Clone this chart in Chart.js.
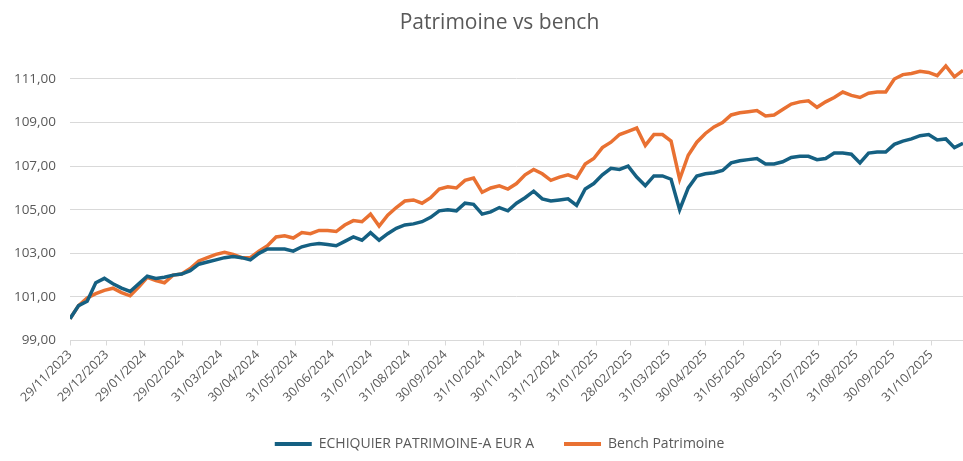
<!DOCTYPE html>
<html>
<head>
<meta charset="utf-8">
<script src="https://cdn.jsdelivr.net/npm/chart.js@4.4.1/dist/chart.umd.min.js"></script>
<style>
  html, body { margin: 0; padding: 0; background: #fff; }
  #wrap { width: 963px; height: 461px; }
</style>
</head>
<body>
<div id="wrap"><canvas id="chart-patrimoine"></canvas></div>
<script>
'use strict';

// Data (weekly readings)

var dates = [
	'2023-11-29','2023-12-06','2023-12-13','2023-12-20','2023-12-27',
	'2024-01-03','2024-01-10','2024-01-17','2024-01-24','2024-01-31',
	'2024-02-07','2024-02-14','2024-02-21','2024-02-28','2024-03-06',
	'2024-03-13','2024-03-20','2024-03-27','2024-04-03','2024-04-10',
	'2024-04-17','2024-04-24','2024-05-01','2024-05-08','2024-05-15',
	'2024-05-22','2024-05-29','2024-06-05','2024-06-12','2024-06-19',
	'2024-06-26','2024-07-03','2024-07-10','2024-07-17','2024-07-24',
	'2024-07-31','2024-08-07','2024-08-14','2024-08-21','2024-08-28',
	'2024-09-04','2024-09-11','2024-09-18','2024-09-25','2024-10-02',
	'2024-10-09','2024-10-16','2024-10-23','2024-10-30','2024-11-06',
	'2024-11-13','2024-11-20','2024-11-27','2024-12-04','2024-12-11',
	'2024-12-18','2024-12-25','2025-01-01','2025-01-08','2025-01-15',
	'2025-01-22','2025-01-29','2025-02-05','2025-02-12','2025-02-19',
	'2025-02-26','2025-03-05','2025-03-12','2025-03-19','2025-03-26',
	'2025-04-02','2025-04-09','2025-04-16','2025-04-23','2025-04-30',
	'2025-05-07','2025-05-14','2025-05-21','2025-05-28','2025-06-04',
	'2025-06-11','2025-06-18','2025-06-25','2025-07-02','2025-07-09',
	'2025-07-16','2025-07-23','2025-07-30','2025-08-06','2025-08-13',
	'2025-08-20','2025-08-27','2025-09-03','2025-09-10','2025-09-17',
	'2025-09-24','2025-10-01','2025-10-08','2025-10-15','2025-10-22',
	'2025-10-29','2025-11-05','2025-11-12','2025-11-19','2025-11-26'
];

var fund = [
	100.00,100.60,100.80,101.65,101.85,101.60,101.40,101.25,101.60,101.95,
	101.85,101.90,102.00,102.05,102.20,102.50,102.60,102.70,102.80,102.85,
	102.80,102.70,103.00,103.20,103.20,103.20,103.10,103.30,103.40,103.45,
	103.40,103.35,103.55,103.75,103.60,103.95,103.60,103.90,104.15,104.30,
	104.35,104.45,104.65,104.95,105.00,104.95,105.30,105.25,104.80,104.90,
	105.10,104.95,105.30,105.55,105.85,105.50,105.40,105.45,105.50,105.20,
	105.95,106.20,106.60,106.90,106.85,107.00,106.50,106.10,106.55,106.55,
	106.40,105.00,106.00,106.55,106.65,106.70,106.80,107.15,107.25,107.30,
	107.35,107.10,107.10,107.20,107.40,107.45,107.45,107.30,107.35,107.60,
	107.60,107.55,107.15,107.60,107.65,107.65,108.00,108.15,108.25,108.40,
	108.45,108.20,108.25,107.85,108.05
];

var bench = [
	100.00,100.60,100.95,101.15,101.30,101.40,101.20,101.05,101.45,101.90,
	101.75,101.65,102.00,102.05,102.30,102.65,102.80,102.95,103.05,102.95,
	102.80,102.80,103.10,103.35,103.75,103.80,103.70,103.95,103.90,104.05,
	104.05,104.00,104.30,104.50,104.45,104.80,104.25,104.75,105.10,105.40,
	105.45,105.30,105.55,105.95,106.05,106.00,106.35,106.45,105.80,106.00,
	106.10,105.95,106.20,106.60,106.85,106.65,106.35,106.50,106.60,106.45,
	107.10,107.35,107.85,108.10,108.45,108.60,108.75,107.95,108.45,108.45,
	108.15,106.40,107.50,108.10,108.50,108.80,109.00,109.35,109.45,109.50,
	109.55,109.30,109.35,109.60,109.85,109.95,110.00,109.70,109.95,110.15,
	110.40,110.25,110.15,110.35,110.40,110.40,111.00,111.20,111.25,111.35,
	111.30,111.15,111.60,111.10,111.40
];

var tickLabels = [
	'29/11/2023','29/12/2023','29/01/2024','29/02/2024','31/03/2024','30/04/2024',
	'31/05/2024','30/06/2024','31/07/2024','31/08/2024','30/09/2024','31/10/2024',
	'30/11/2024','31/12/2024','31/01/2025','28/02/2025','31/03/2025','30/04/2025',
	'31/05/2025','30/06/2025','31/07/2025','31/08/2025','30/09/2025','31/10/2025'
];

var yTicks = [99, 101, 103, 105, 107, 109, 111];

var seriesNames = ['ECHIQUIER PATRIMOINE-A EUR A', 'Bench Patrimoine'];
var seriesColors = ['#156082', '#E97132'];


// Helpers

var DAY = 86400000;
var origin = Date.UTC(2023, 10, 29);

function isoToDay(s) {
	var p = s.split('-');
	return Math.round((Date.UTC(+p[0], +p[1] - 1, +p[2]) - origin) / DAY);
}

function frToDay(s) {
	var p = s.split('/');
	return Math.round((Date.UTC(+p[2], +p[1] - 1, +p[0]) - origin) / DAY);
}

function toPoints(values) {
	return values.map(function(v, i) {
		return { x: isoToDay(dates[i]), y: v };
	});
}

var tickDays = tickLabels.map(frToDay);
var lastDay = isoToDay(dates[dates.length - 1]);

// title and legend sit a bit right of the canvas centre in the original
var centreShift = {
	id: 'centreShift',
	afterLayout: function(c) {
		[c.titleBlock, c.legend].forEach(function(box) {
			if (box) {
				box.left += 18;
				box.right += 18;
			}
		});
	}
};


// Chart

var textColor = '#595959';
var gridColor = '#d9d9d9';
var baseFont = "'Open Sans', 'Liberation Sans', sans-serif";

Chart.defaults.font.family = baseFont;
Chart.defaults.color = textColor;

var chart = new Chart(document.getElementById('chart-patrimoine'), {
	type: 'line',
	plugins: [centreShift],
	data: {
		datasets: [{
			label: seriesNames[0],
			data: toPoints(fund),
			borderColor: seriesColors[0],
			backgroundColor: seriesColors[0],
			borderWidth: 3.5,
			pointRadius: 0,
			tension: 0
		}, {
			label: seriesNames[1],
			data: toPoints(bench),
			borderColor: seriesColors[1],
			backgroundColor: seriesColors[1],
			borderWidth: 3.5,
			pointRadius: 0,
			tension: 0
		}]
	},
	options: {
		responsive: true,
		maintainAspectRatio: false,
		animation: false,
		layout: {
			padding: { left: 0, right: 0, top: 0, bottom: 0 }
		},
		plugins: {
			title: {
				display: true,
				text: 'Patrimoine vs bench',
				color: textColor,
				font: { size: 21, weight: 'normal' },
				padding: { top: 10, bottom: 22 }
			},
			legend: {
				position: 'bottom',
				labels: {
					boxWidth: 37,
					boxHeight: 4,
					padding: 30,
					color: textColor,
					font: { size: 14 },
					generateLabels: function(c) {
						return Chart.defaults.plugins.legend.labels.generateLabels(c).map(function(l) {
							l.lineWidth = 0;
							return l;
						});
					}
				}
			},
			tooltip: { enabled: false }
		},
		scales: {
			x: {
				type: 'linear',
				min: 0,
				max: lastDay,
				afterBuildTicks: function(scale) {
					scale.ticks = tickDays.map(function(d) { return { value: d }; });
				},
				ticks: {
					autoSkip: false,
					maxRotation: 45,
					minRotation: 45,
					padding: 2,
					color: textColor,
					font: { size: 12.5 },
					callback: function(value) {
						var i = tickDays.indexOf(value);
						return i >= 0 ? tickLabels[i] : '';
					}
				},
				grid: {
					drawOnChartArea: false,
					drawTicks: true,
					tickLength: 5,
					color: gridColor
				},
				border: { color: gridColor }
			},
			y: {
				min: 99,
				max: 112,
				afterBuildTicks: function(scale) {
					scale.ticks = yTicks.map(function(v) { return { value: v }; });
				},
				afterFit: function(scale) {
					scale.width = 70;
				},
				ticks: {
					padding: 14,
					color: textColor,
					font: { size: 13.5 },
					callback: function(value) {
						return value.toFixed(2).replace('.', ',');
					}
				},
				grid: {
					color: gridColor,
					drawTicks: false
				},
				border: { display: false }
			}
		}
	}
});
</script>
</body>
</html>
